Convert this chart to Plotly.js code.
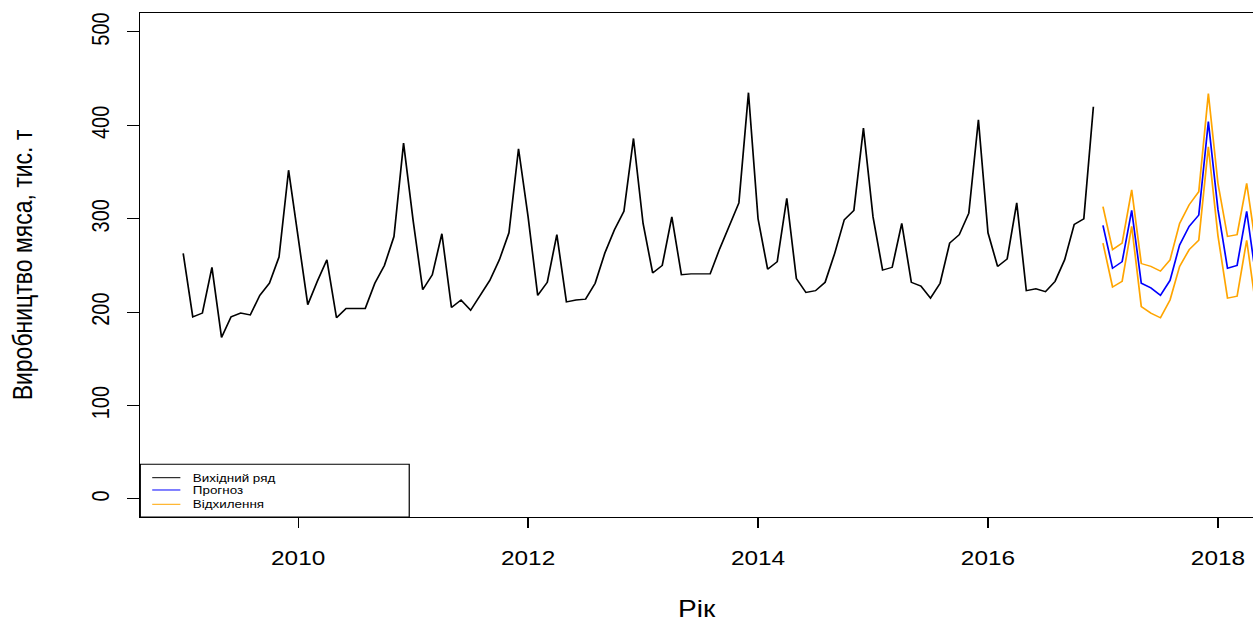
<!DOCTYPE html>
<html><head><meta charset="utf-8">
<script src="https://cdn.plot.ly/plotly-3.0.1.min.js"></script>
<style>
html,body{margin:0;padding:0;overflow:hidden;background:#fff}
#wrap{width:1253px;height:622px;overflow:hidden;position:relative}
#chart{width:1027px;height:622px;transform:scaleX(1.22006);transform-origin:0 0}
</style>
</head><body><div id="wrap"><div id="chart"></div></div>
<script>
// Monthly meat production, Jan 2009 - Dec 2016 (thousand tonnes)
var startYear = 2009;
var actual = [
  263,195,199,248,173,195,199,197,218,231,259,352,
  280,208,233,256,194,204,204,204,231,250,281,381,
  298,224,240,284,205,213,202,218,234,256,285,375,
  302,218,232,283,211,213,214,231,263,288,308,386,
  295,242,250,302,240,241,241,241,268,292,317,435,
  300,246,254,322,236,221,223,232,263,299,309,397,
  302,245,248,295,232,228,215,231,274,283,306,406,
  285,249,257,317,223,225,222,233,256,294,300,420
];
// Forecast Jan 2017 - May 2018
var fcStartYear = 2017;
var forecast = [293,247,254,309,231,226,218,234,272,292,304,404,310,247,250,308,235];
var upper    = [313,267,274,331,252,249,244,256,295,315,329,434,338,281,283,338,268];
var lower    = [274,227,233,292,206,199,194,213,249,267,277,377,282,215,217,277,203];

var xTicks = [2010, 2012, 2014, 2016, 2018];
var yTicks = [0, 100, 200, 300, 400, 500];
var legendLabels = ["Вихідний ряд", "Прогноз", "Відхилення"];
var colors = ["#000000", "#0000FF", "#FFA500"];

function timeIndex(y0, n){ var t=[]; for(var i=0;i<n;i++) t.push(y0 + i/12); return t; }
var tA = timeIndex(startYear, actual.length);
var tF = timeIndex(fcStartYear, forecast.length);

var FONT = "Liberation Sans, Arial, sans-serif";
var traces = [
  {x: tA, y: actual, type:'scatter', mode:'lines', line:{color:colors[0], width:1.4}, name:legendLabels[0]},
  {x: tF, y: forecast, type:'scatter', mode:'lines', line:{color:colors[1], width:1.4}, name:legendLabels[1]},
  {x: tF, y: upper, type:'scatter', mode:'lines', line:{color:colors[2], width:1.4}, name:legendLabels[2]},
  {x: tF, y: lower, type:'scatter', mode:'lines', line:{color:colors[2], width:1.4}, name:legendLabels[2]+' ', showlegend:false}
];

// Manual legend (box, sample lines, labels) in paper coordinates
var lgX0=0, lgX1=0.2417, lgY1=0.1046;
var rowY=[0.078, 0.0536, 0.0252];
var shapes=[{type:'rect', xref:'paper', yref:'paper', x0:lgX0, x1:lgX1, y0:0, y1:lgY1, line:{color:'#000', width:1}}];
var annotations=[];
for (var k=0;k<3;k++){
  shapes.push({type:'line', xref:'paper', yref:'paper', x0:0.0107, x1:0.036, y0:rowY[k], y1:rowY[k], line:{color:colors[k], width:1}});
  annotations.push({xref:'paper', yref:'paper', x:0.045, y:rowY[k], xanchor:'left', yanchor:'middle', showarrow:false,
    text:legendLabels[k], font:{family:FONT, size:11, color:'#000'}});
}

var layout = {
  width:1027, height:622,
  margin:{l:115, r:0, t:13, b:105},
  paper_bgcolor:'#fff', plot_bgcolor:'#fff',
  showlegend:false,
  font:{family:FONT, color:'#000'},
  xaxis:{range:[2008.627, 2018.305], tickvals:xTicks, ticktext:xTicks.map(String),
    ticks:'outside', ticklen:10, tickwidth:1, tickcolor:'#000', ticklabelstandoff:13,
    showline:true, linecolor:'#000', linewidth:1, mirror:true,
    showgrid:false, zeroline:false, tickfont:{family:FONT, size:20, color:'#000'},
    title:{text:'Рік', font:{family:FONT, size:23, color:'#000'}, standoff:36}},
  yaxis:{range:[-19.3, 520.3], tickvals:yTicks, ticktext:yTicks.map(String), tickangle:-90,
    ticks:'outside', ticklen:10, tickwidth:1, tickcolor:'#000', ticklabelstandoff:7,
    showline:true, linecolor:'#000', linewidth:1, mirror:false,
    showgrid:false, zeroline:false, tickfont:{family:FONT, size:20, color:'#000'},
    title:{text:'Виробництво мяса, тис. т', font:{family:FONT, size:23, color:'#000'}, standoff:37}},
  shapes:shapes,
  annotations:annotations
};
Plotly.newPlot('chart', traces, layout, {displayModeBar:false, staticPlot:true});
</script></body></html>
